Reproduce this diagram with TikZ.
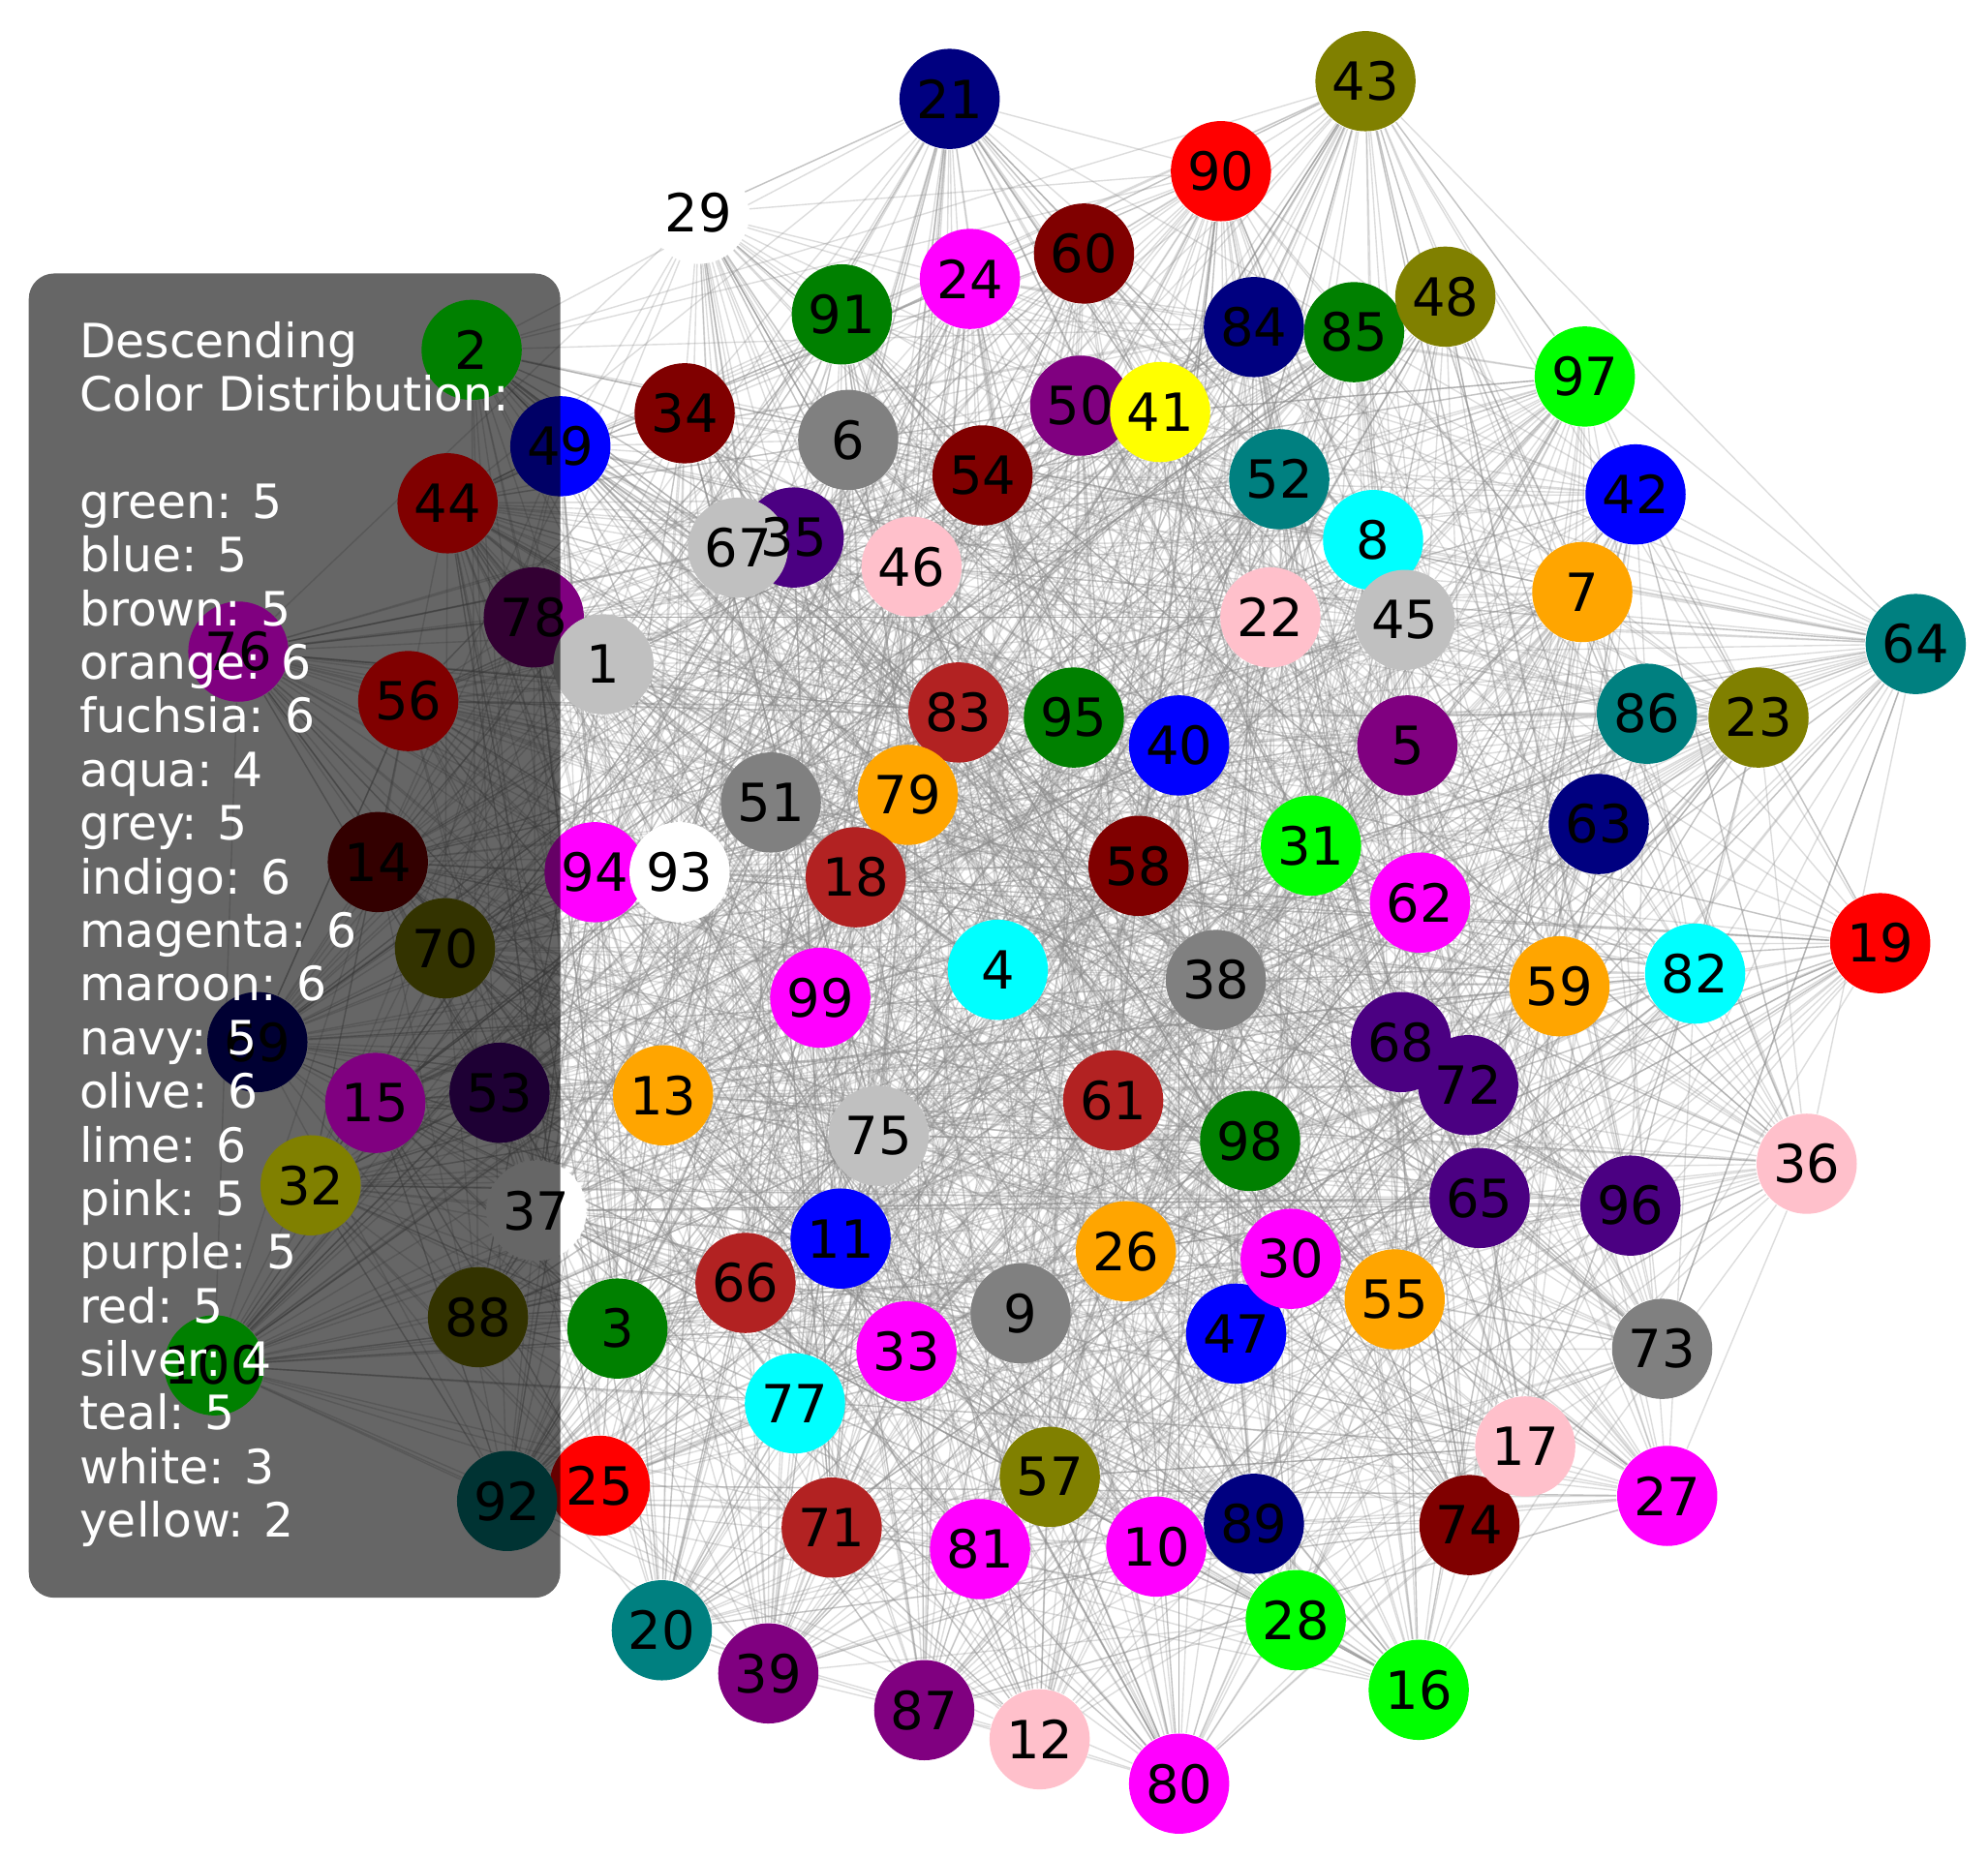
\documentclass[tikz,border=0pt]{standalone}
\usepackage{fontspec}
\setmainfont{DejaVu Sans}
\definecolor{cnavy}{HTML}{000080}
\definecolor{colive}{HTML}{808000}
\definecolor{cred}{HTML}{FF0000}
\definecolor{cwhite}{HTML}{FFFFFF}
\definecolor{cmaroon}{HTML}{800000}
\definecolor{cfuchsia}{HTML}{FF00FF}
\definecolor{cgreen}{HTML}{008000}
\definecolor{clime}{HTML}{00FF00}
\definecolor{cpurple}{HTML}{800080}
\definecolor{cyellow}{HTML}{FFFF00}
\definecolor{cblue}{HTML}{0000FF}
\definecolor{cgrey}{HTML}{808080}
\definecolor{cteal}{HTML}{008080}
\definecolor{cindigo}{HTML}{4B0082}
\definecolor{csilver}{HTML}{C0C0C0}
\definecolor{cpink}{HTML}{FFC0CB}
\definecolor{caqua}{HTML}{00FFFF}
\definecolor{corange}{HTML}{FFA500}
\definecolor{cbrown}{HTML}{B22222}
\pgfdeclarelayer{bg}
\pgfsetlayers{bg,main}
\tikzset{
  vtx/.style={circle, minimum size=0.79cm, inner sep=0pt, draw=none},
  lbl/.style={inner sep=0pt, text=black, font=\fontsize{11.8}{13}\selectfont},
  edge/.style={draw=black!45, opacity=0.3, line width=0.3pt},
  legbox/.style={fill=black, fill opacity=0.6, draw=none, rounded corners=0.2cm},
  legtxt/.style={anchor=base west, inner sep=0pt, text=white, font=\fontsize{10.6}{12}\selectfont}
}
\begin{document}
\begin{tikzpicture}[x=0.01cm,y=-0.01cm]
\useasboundingbox (0,0) rectangle (1568,1465);
\begin{pgfonlayer}{bg}
\fill[white] (0,0) rectangle (1568,1465);
\end{pgfonlayer}
% nodes lying under the legend box
\foreach \n/\x/\y/\c in {
21/749/78/cnavy, 43/1077/64/colive, 90/963/135/cred, 29/551/168/cwhite,
60/855/200/cmaroon, 24/765/220/cfuchsia, 91/664/248/cgreen, 84/989/258/cnavy,
85/1068/262/cgreen, 48/1140/234/colive, 97/1250/297/clime, 34/540/326/cmaroon,
50/852/320/cpurple, 41/915/325/cyellow, 49/442/352/cblue, 6/669/347/cgrey,
54/775/375/cmaroon, 52/1009/378/cteal, 42/1290/390/cblue, 35/626/424/cindigo,
67/582/432/csilver, 46/719/447/cpink, 8/1083/426/caqua, 7/1248/467/corange,
78/421/487/cpurple, 22/1002/487/cpink, 45/1108/489/csilver, 1/476/524/csilver,
64/1511/508/cteal, 83/756/562/cbrown, 95/847/566/cgreen, 40/930/588/cblue,
5/1110/588/cpurple, 86/1299/563/cteal, 23/1387/566/colive, 51/608/633/cgrey,
79/716/627/corange, 63/1261/650/cnavy, 31/1034/667/clime, 14/298/680/cmaroon,
94/469/688/cfuchsia, 93/536/688/cwhite, 18/675/692/cbrown, 58/898/683/cmaroon,
62/1120/712/cfuchsia, 70/351/748/colive, 19/1483/744/cred, 4/787/765/caqua,
99/647/787/cfuchsia, 38/959/773/cgrey, 59/1230/778/corange, 82/1337/768/caqua,
68/1105/822/cindigo, 72/1158/856/cindigo, 69/203/822/cnavy, 53/394/862/cindigo,
13/523/864/corange, 75/693/896/csilver, 61/878/868/cbrown, 98/986/900/cgreen,
36/1425/918/cpink, 65/1167/945/cindigo, 96/1286/951/cindigo, 37/423/955/cwhite,
11/663/977/cblue, 26/888/987/corange, 47/975/1052/cblue, 30/1018/993/cfuchsia,
66/588/1012/cbrown, 9/805/1036/cgrey, 55/1100/1025/corange, 3/487/1048/cgreen,
88/377/1039/colive, 73/1311/1064/cgrey, 33/715/1066/cfuchsia, 77/627/1107/caqua,
57/828/1165/colive, 74/1159/1203/cmaroon, 17/1203/1141/cpink, 27/1315/1180/cfuchsia,
25/473/1172/cred, 92/400/1184/cteal, 71/656/1205/cbrown, 81/773/1222/cfuchsia,
10/912/1220/cfuchsia, 89/989/1202/cnavy, 28/1022/1278/clime, 20/522/1286/cteal,
39/606/1320/cpurple, 16/1119/1333/clime, 87/729/1349/cpurple, 12/820/1372/cpink,
80/930/1407/cfuchsia}
  \node[vtx, fill=\c] (n\n) at (\x,\y) {};
% legend box
\node[legbox, minimum width=4.19cm, minimum height=10.44cm, anchor=north west, inner sep=0pt] (legend) at (22,215) {};
% nodes drawn over the legend box
\foreach \n/\x/\y/\c in {2/372/276/cgreen, 44/353/397/cmaroon, 76/188/514/cpurple,
56/322/553/cmaroon, 15/296/870/cpurple, 32/245/935/colive, 100/169/1077/cgreen}
  \node[vtx, fill=\c] (n\n) at (\x,\y) {};
% edges
\begin{pgfonlayer}{bg}
\pgfmathsetseed{20}
\foreach \i in {1,...,100}{
  \foreach \k in {1,...,22}{
    \pgfmathtruncatemacro{\j}{mod(\i-1+random(1,98),100)+1}
    \draw[edge] (n\i) -- (n\j);
  }
}
\end{pgfonlayer}
% labels
\foreach \i in {1,...,100}
  \node[lbl] (l\i) at (n\i) {\i};
% legend text
\foreach \t [count=\k from 0] in {Descending, Color Distribution:, {}, green: 5, blue: 5, brown: 5,
orange: 6, fuchsia: 6, aqua: 4, grey: 5, indigo: 6, magenta: 6, maroon: 6, navy: 5,
olive: 6, lime: 6, pink: 5, purple: 5, red: 5, silver: 4, teal: 5, white: 3, yellow: 2}
  \node[legtxt] (t\k) at (62,{282+\k*42.3}) {\t};
\end{tikzpicture}
\end{document}
